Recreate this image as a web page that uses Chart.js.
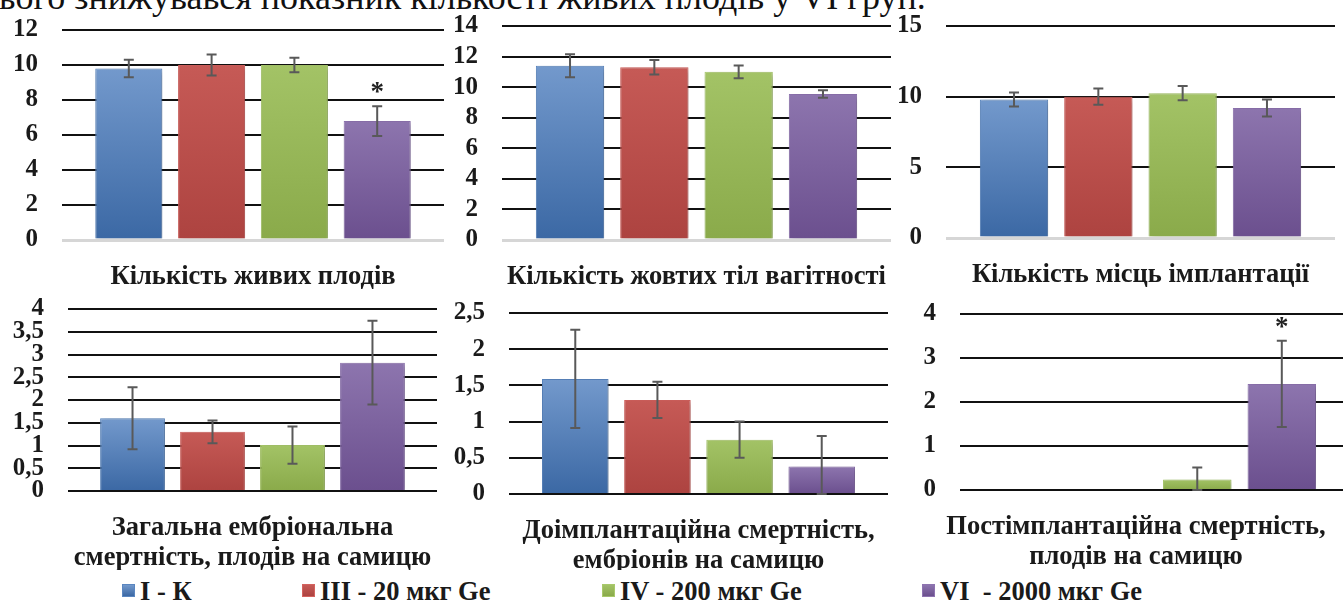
<!DOCTYPE html>
<html>
<head>
<meta charset="utf-8">
<script src="https://cdn.jsdelivr.net/npm/chart.js@4.4.0/dist/chart.umd.min.js"></script>
<style>
  html, body { margin: 0; padding: 0; background: #fff; }
  body { width: 1343px; height: 603px; overflow: hidden; position: relative; }
  canvas { position: absolute; }
  .topline { position: absolute; left: -1px; top: -21px; font: 36px/36px 'Liberation Serif', serif; color: #111; white-space: nowrap; }
  .leg { position: absolute; top: 577px; height: 28px; display: flex; align-items: center; font: bold 26.5px/28px 'Liberation Serif', serif; color: #1a1a1a; white-space: pre; }
  .leg i { display: inline-block; width: 13px; height: 13px; margin-right: 5px; margin-top: -2px; box-sizing: border-box; }
</style>
</head>
<body>
<div class="topline">ього знижувався показник кількості живих плодів у VI груп.</div>
<canvas id="c0"></canvas>
<canvas id="c1"></canvas>
<canvas id="c2"></canvas>
<canvas id="c3"></canvas>
<canvas id="c4"></canvas>
<canvas id="c5"></canvas>
<div id="legend"></div>
<script>
// groups (one bar each in every panel)
const seriesNames = ['I - К', 'III - 20 мкг Ge', 'IV - 200 мкг Ge', 'VI  - 2000 мкг Ge'];

// panel titles (the single category of each panel)
const panelTitles = [
  'Кількість живих плодів',
  'Кількість жовтих тіл вагітності',
  'Кількість місць імплантації',
  ['Загальна ембріональна', 'смертність, плодів на самицю'],
  ['Доімплантаційна смертність,', 'ембріонів на самицю'],
  ['Постімплантаційна смертність,', 'плодів на самицю']
];

// means and errors
const liveFetuses = [9.8, 10.0, 10.0, 6.8];
const liveFetusesErr = [0.5, 0.6, 0.42, 0.85];
const corporaLutea = [11.4, 11.3, 11.0, 9.55];
const corporaLuteaErr = [0.75, 0.48, 0.42, 0.25];
const implantSites = [9.8, 10.0, 10.25, 9.2];
const implantSitesErr = [0.5, 0.58, 0.5, 0.6];
const totalDeath = [1.6, 1.3, 1.01, 2.82];
const totalDeathErr = [0.68, 0.25, 0.41, 0.92];
const preImplDeath = [1.59, 1.3, 0.75, 0.38];
const preImplDeathErr = [0.68, 0.25, 0.25, 0.42];
const postImplDeath = [0, 0, 0.24, 2.41];
const postImplDeathErr = [0, 0, 0.27, 0.98];

// significance marks
const noStars = [false, false, false, false];
const starOnVI = [false, false, false, true];

// y axis tick range
const yMax = [12, 14, 15, 4, 2.5, 4];
const yStep = [2, 2, 5, 0.5, 0.5, 1];

const panelValues = [liveFetuses, corporaLutea, implantSites, totalDeath, preImplDeath, postImplDeath];
const panelErrors = [liveFetusesErr, corporaLuteaErr, implantSitesErr, totalDeathErr, preImplDeathErr, postImplDeathErr];
const panelStars = [starOnVI, noStars, noStars, noStars, noStars, starOnVI];

// layout: canvas box, y-axis width, top padding, x-axis height, label shift
const boxes = [
  { left: 0,   top: 0,   w: 444, h: 300, yW: 62, padTop: 30, xH: 60, shift: 0,   zeroGrey: true },
  { left: 440, top: 0,   w: 451, h: 300, yW: 62, padTop: 26, xH: 60, shift: 0,   zeroGrey: true },
  { left: 890, top: 0,   w: 445, h: 300, yW: 56, padTop: 26, xH: 62, shift: 0,   zeroGrey: true },
  { left: 0,   top: 290, w: 437, h: 280, yW: 68, padTop: 19, xH: 79, shift: 0,   zeroGrey: false },
  { left: 440, top: 290, w: 448, h: 280, yW: 69, padTop: 23, xH: 76, shift: 0,   zeroGrey: false },
  { left: 890, top: 290, w: 460, h: 280, yW: 70, padTop: 24, xH: 80, shift: -19, zeroGrey: false }
];

const seriesTop = ['#7399cc', '#c65a56', '#a3c366', '#8d75ae'];
const seriesBottom = ['#3b68a4', '#ad4340', '#8aaa4a', '#6b4f8e'];
const seriesBorder = ['#5a86c0', '#d4625e', '#a9c96b', '#8e73b0'];
const legendLeft = [122, 302, 602, 922];

const serif = "'Liberation Serif', 'Times New Roman', serif";

const errorBars = {
  id: 'errorBars',
  beforeDatasetsDraw(chart) {
    const ctx = chart.ctx;
    ctx.save();
    ctx.shadowColor = 'rgba(0,0,0,0.28)';
    ctx.shadowBlur = 6;
    ctx.shadowOffsetX = 2;
    ctx.shadowOffsetY = 2;
  },
  afterDatasetsDraw(chart, args, opts) {
    const ctx = chart.ctx;
    ctx.restore();
    const y = chart.scales.y;
    ctx.save();
    ctx.strokeStyle = '#595959';
    ctx.lineWidth = 2;
    chart.data.datasets.forEach((ds, i) => {
      const bar = chart.getDatasetMeta(i).data[0];
      const v = ds.data[0];
      const e = opts.errors[i];
      if (!e) return;
      const x = bar.x;
      const hi = y.getPixelForValue(v + e);
      const lo = y.getPixelForValue(Math.max(y.min, v - e));
      ctx.beginPath();
      ctx.moveTo(x, hi); ctx.lineTo(x, lo);
      ctx.moveTo(x - 5, hi); ctx.lineTo(x + 5, hi);
      ctx.moveTo(x - 5, lo); ctx.lineTo(x + 5, lo);
      ctx.stroke();
      if (opts.stars[i]) {
        ctx.fillStyle = '#222';
        ctx.font = 'bold 27px ' + serif;
        ctx.textAlign = 'center';
        ctx.textBaseline = 'alphabetic';
        ctx.fillText('*', x, hi - 6);
      }
    });
    ctx.restore();
  }
};

function barFill(k) {
  return (c) => {
    const ch = c.chart;
    if (!ch.chartArea || c.parsed === undefined) return seriesTop[k];
    const ys = ch.scales.y;
    const t = ys.getPixelForValue(c.parsed.y);
    const b = ys.getPixelForValue(0);
    if (!(b - t > 0)) return seriesTop[k];
    const g = ch.ctx.createLinearGradient(0, t, 0, b);
    g.addColorStop(0, seriesTop[k]);
    g.addColorStop(1, seriesBottom[k]);
    return g;
  };
}

panelValues.forEach((vals, p) => {
  const bx = boxes[p];
  const cv = document.getElementById('c' + p);
  cv.width = bx.w; cv.height = bx.h;
  cv.style.left = bx.left + 'px'; cv.style.top = bx.top + 'px';
  new Chart(cv, {
    type: 'bar',
    data: {
      labels: [panelTitles[p]],
      datasets: seriesNames.map((name, k) => ({
        label: name,
        data: [vals[k]],
        backgroundColor: barFill(k),
        borderColor: seriesBorder[k],
        borderWidth: vals[k] ? 1 : 0
      }))
    },
    options: {
      responsive: false,
      animation: false,
      devicePixelRatio: 1,
      categoryPercentage: 0.867,
      barPercentage: 0.81,
      layout: { padding: { top: bx.padTop, left: 0, right: 0, bottom: 0 } },
      plugins: {
        legend: { display: false },
        tooltip: { enabled: false },
        errorBars: { errors: panelErrors[p], stars: panelStars[p] }
      },
      scales: {
        x: {
          grid: { display: false },
          border: { display: false },
          afterFit: (s) => { s.height = bx.xH; s.paddingLeft = 0; s.paddingRight = 0; },
          ticks: {
            color: '#1a1a1a',
            padding: 14,
            labelOffset: bx.shift,
            maxRotation: 0,
            font: { family: serif, size: 26.5, weight: 'bold', lineHeight: 1.13 }
          }
        },
        y: {
          min: 0,
          max: yMax[p],
          border: { display: false },
          afterFit: (s) => { s.width = bx.yW; s.paddingTop = 0; s.paddingBottom = 0; },
          grid: {
            drawTicks: false,
            lineWidth: (c) => (c.tick && c.tick.value === 0 && bx.zeroGrey) ? 3 : 2,
            color: (c) => (c.tick && c.tick.value === 0 && bx.zeroGrey) ? '#d6d6d6' : '#111'
          },
          ticks: {
            stepSize: yStep[p],
            autoSkip: false,
            padding: 24,
            color: '#1a1a1a',
            font: { family: serif, size: 25, weight: 'bold' },
            callback: (v) => String(v).replace('.', ',')
          }
        }
      }
    },
    plugins: [errorBars]
  });
});

const legend = document.getElementById('legend');
seriesNames.forEach((name, k) => {
  const d = document.createElement('div');
  d.className = 'leg';
  d.style.left = legendLeft[k] + 'px';
  const sw = document.createElement('i');
  sw.style.background = 'linear-gradient(' + seriesTop[k] + ',' + seriesBottom[k] + ')';
  sw.style.border = '1px solid ' + seriesBorder[k];
  d.appendChild(sw);
  d.appendChild(document.createTextNode(name));
  legend.appendChild(d);
});
</script>
</body>
</html>
